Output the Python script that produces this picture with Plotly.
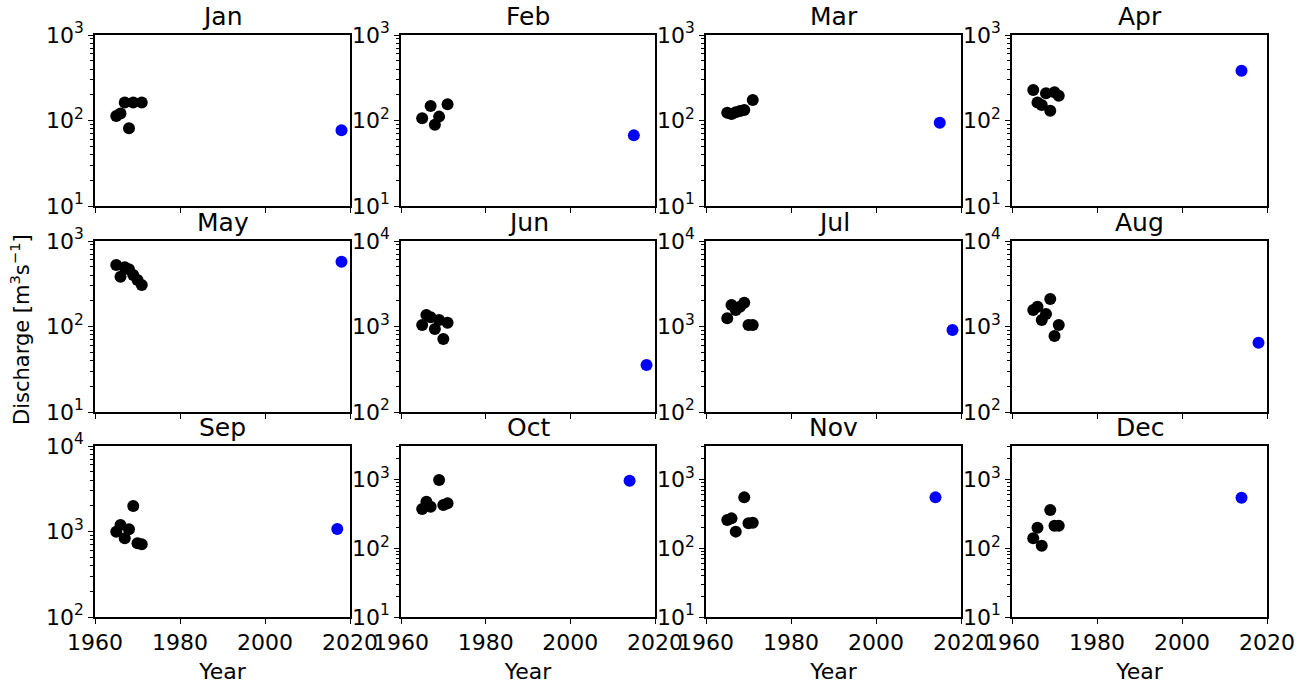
import math
import plotly.graph_objects as go

months = ["Jan", "Feb", "Mar", "Apr", "May", "Jun", "Jul", "Aug", "Sep", "Oct", "Nov", "Dec"]

jan_year = [1965, 1966, 1967, 1968, 1969, 1971]
jan_q = [113, 121, 162, 81, 162, 162]
feb_year = [1965, 1967, 1968, 1969, 1971]
feb_q = [106, 148, 89, 111, 155]
mar_year = [1965, 1966, 1967, 1968, 1969, 1971]
mar_q = [123, 119, 125, 129, 133, 174]
apr_year = [1965, 1966, 1967, 1968, 1969, 1970, 1971]
apr_q = [228, 162, 152, 208, 130, 214, 195]
may_year = [1965, 1966, 1967, 1968, 1969, 1970, 1971]
may_q = [524, 382, 492, 467, 400, 350, 305]
jun_year = [1965, 1966, 1967, 1968, 1969, 1970, 1971]
jun_q = [1042, 1365, 1282, 935, 1191, 714, 1107]
jul_year = [1965, 1966, 1967, 1968, 1969, 1970, 1971]
jul_q = [1247, 1782, 1560, 1706, 1897, 1042, 1042]
aug_year = [1965, 1966, 1967, 1968, 1969, 1970, 1971]
aug_q = [1560, 1706, 1191, 1400, 2100, 774, 1042]
sep_year = [1965, 1966, 1967, 1968, 1969, 1970, 1971]
sep_q = [995, 1191, 832, 1062, 1986, 728, 708]
oct_year = [1965, 1966, 1967, 1969, 1970, 1971]
oct_q = [373, 477, 404, 987, 427, 452]
nov_year = [1965, 1966, 1967, 1969, 1970, 1971]
nov_q = [258, 273, 175, 552, 231, 236]
dec_year = [1965, 1966, 1967, 1969, 1970, 1971]
dec_q = [140, 199, 109, 361, 213, 213]

recent_year = [2018, 2015, 2015, 2014, 2018, 2018, 2018, 2018, 2017, 2014, 2014, 2014]
recent_q = [77, 67, 94, 382, 573, 355, 911, 647, 1069, 964, 552, 546]

# log10 exponent ranges of each panel's y axis
y_exp_range = [[1, 3]] * 5 + [[2, 4]] * 4 + [[1, 3.49]] * 3

x_ticks = [1960, 1980, 2000, 2020]

hist_years = [jan_year, feb_year, mar_year, apr_year, may_year, jun_year,
              jul_year, aug_year, sep_year, oct_year, nov_year, dec_year]
hist_q = [jan_q, feb_q, mar_q, apr_q, may_q, jun_q,
          jul_q, aug_q, sep_q, oct_q, nov_q, dec_q]

W, H = 1309, 686
col_left = [95, 401, 706, 1012]
col_right = [350, 655, 961, 1267]
row_top = [35, 241, 446]
row_bottom = [206, 412, 617]

FONT = "DejaVu Sans"
fig = go.Figure()
layout = dict(
    width=W, height=H, template="none",
    margin=dict(l=0, r=0, t=0, b=0, autoexpand=False),
    paper_bgcolor="white", plot_bgcolor="white",
    showlegend=False, font=dict(family=FONT, size=22, color="black"),
)
annotations = []

for i, m in enumerate(months):
    r, c = divmod(i, 4)
    sfx = "" if i == 0 else str(i + 1)
    xa, ya = "x" + sfx, "y" + sfx
    fig.add_trace(go.Scatter(x=hist_years[i], y=hist_q[i], mode="markers",
                             marker=dict(color="black", size=12, line=dict(width=0)),
                             xaxis=xa, yaxis=ya))
    fig.add_trace(go.Scatter(x=[recent_year[i]], y=[recent_q[i]], mode="markers",
                             marker=dict(color="#0000ff", size=12, line=dict(width=0)),
                             xaxis=xa, yaxis=ya))
    lo, hi = y_exp_range[i]
    major = [10 ** e for e in range(int(lo), int(hi) + 1) if lo <= e <= hi]
    minor = [k * 10 ** e for e in range(int(lo), int(hi) + 1) for k in range(2, 10)
             if lo < math.log10(k * 10 ** e) < hi]
    layout["xaxis" + sfx] = dict(
        domain=[col_left[c] / W, col_right[c] / W], anchor=ya,
        range=[1960, 2020], tickvals=x_ticks, ticktext=[str(t) for t in x_ticks],
        showticklabels=(r == 2), ticks="outside", ticklen=5, tickwidth=1.2,
        tickcolor="black", showline=True, linecolor="black", linewidth=1.8,
        mirror=True, showgrid=False, zeroline=False, automargin=False,
        tickfont=dict(family=FONT, size=22, color="black"),
        title=dict(text="Year" if r == 2 else "", font=dict(family=FONT, size=22), standoff=9),
    )
    layout["yaxis" + sfx] = dict(
        domain=[1 - row_bottom[r] / H, 1 - row_top[r] / H], anchor=xa,
        type="log", range=[lo, hi], tickvals=major,
        ticktext=["10<sup>%d</sup>" % round(math.log10(v)) for v in major],
        ticks="outside", ticklen=5, tickwidth=1.2, tickcolor="black",
        minor=dict(tickvals=minor, ticks="outside", ticklen=3, tickwidth=0.8,
                   tickcolor="black", showgrid=False),
        showline=True, linecolor="black", linewidth=1.8, mirror=True,
        showgrid=False, zeroline=False, automargin=False,
        tickfont=dict(family=FONT, size=22, color="black"),
    )
    annotations.append(dict(
        text=m, x=(col_left[c] + col_right[c]) / 2 / W, y=1 - row_top[r] / H,
        xref="paper", yref="paper", xanchor="center", yanchor="bottom",
        yshift=2, showarrow=False, font=dict(family=FONT, size=25, color="black")))

annotations.append(dict(
    text="Discharge [m<sup>3</sup>s<sup>\u22121</sup>]", x=20 / W, y=1 - 330 / H,
    xref="paper", yref="paper", xanchor="center", yanchor="middle",
    textangle=-90, showarrow=False, font=dict(family=FONT, size=21, color="black")))

layout["annotations"] = annotations
fig.update_layout(**layout)
fig.write_html("out.html")
